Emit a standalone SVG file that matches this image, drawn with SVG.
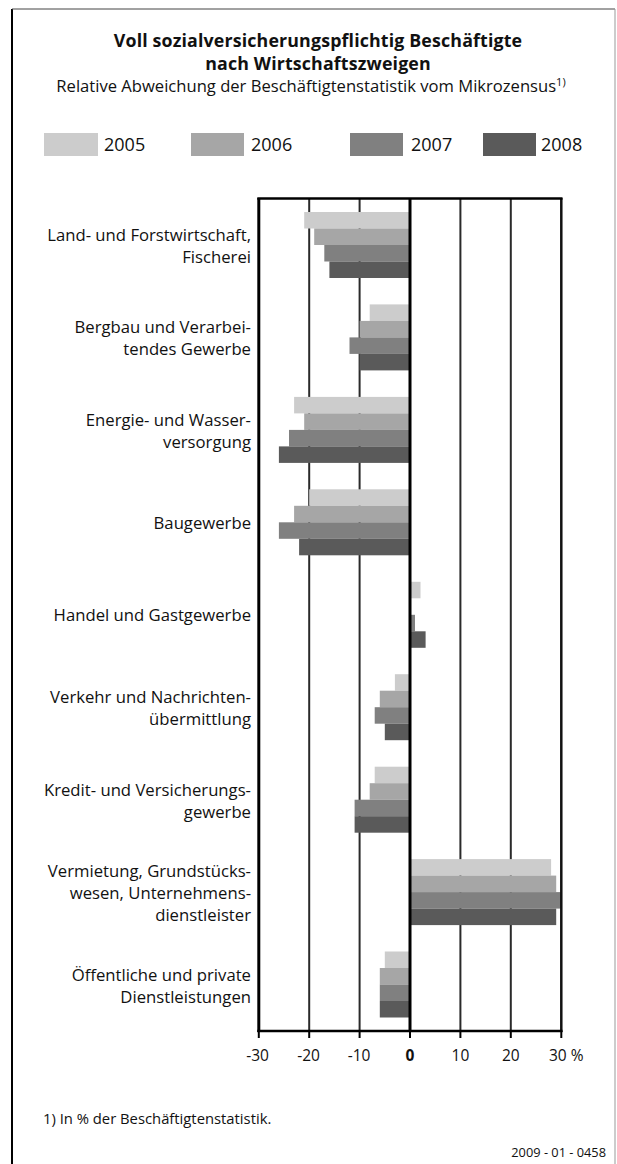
<svg xmlns="http://www.w3.org/2000/svg" width="617" height="1164" viewBox="0 0 617 1164">
<style>
text{font-family:"Open Sans","Noto Sans","Liberation Sans",sans-serif;fill:#111}
.t{font-size:17.8px;font-weight:bold;text-anchor:middle;letter-spacing:0.15px}
.st{font-size:16.6px;text-anchor:middle}
.lg{font-size:18px}
.cat{font-size:16.7px;text-anchor:end}
.ax{font-size:15.5px;text-anchor:middle}
.c5{fill:#cccccc}.c6{fill:#a6a6a6}.c7{fill:#808080}.c8{fill:#5a5a5a}
.grid{stroke:#2a2a2a;stroke-width:2}
</style>
<g id="frame">
<line x1="12" y1="9" x2="12" y2="1164" stroke="#000" stroke-width="2"/>
<line x1="12" y1="9" x2="615" y2="9" stroke="#444" stroke-width="1"/>
<line x1="615" y1="9" x2="615" y2="1164" stroke="#999" stroke-width="1"/>
</g>
<g id="title">
<text class="t" x="318" y="47">Voll sozialversicherungspflichtig Beschäftigte</text>
<text class="t" x="318" y="70">nach Wirtschaftszweigen</text>
<text class="st" x="311" y="92">Relative Abweichung der Beschäftigtenstatistik vom Mikrozensus<tspan font-size="11" dy="-6">1)</tspan></text>
</g>
<g id="legend">
<rect class="c5" x="44" y="133" width="54" height="23"/><text class="lg" x="104" y="151">2005</text>
<rect class="c6" x="191" y="133" width="53" height="23"/><text class="lg" x="251" y="151">2006</text>
<rect class="c7" x="350" y="133" width="53" height="23"/><text class="lg" x="411" y="151">2007</text>
<rect class="c8" x="483" y="133" width="53" height="23"/><text class="lg" x="541" y="151">2008</text>
</g>
<g id="gridlines">
<line class="grid" x1="309.2" y1="199" x2="309.2" y2="1031"/>
<line class="grid" x1="359.6" y1="199" x2="359.6" y2="1031"/>
<line class="grid" x1="460.4" y1="199" x2="460.4" y2="1031"/>
<line class="grid" x1="510.8" y1="199" x2="510.8" y2="1031"/>
</g>
<g id="bars">
<rect class="c5" x="304.2" y="212" width="105.8" height="16.5"/>
<rect class="c6" x="314.2" y="228.5" width="95.8" height="16.5"/>
<rect class="c7" x="324.3" y="245" width="85.7" height="16.5"/>
<rect class="c8" x="329.4" y="261.5" width="80.6" height="16.5"/>
<rect class="c5" x="369.7" y="304.4" width="40.3" height="16.5"/>
<rect class="c6" x="359.6" y="320.9" width="50.4" height="16.5"/>
<rect class="c7" x="349.5" y="337.4" width="60.5" height="16.5"/>
<rect class="c8" x="359.6" y="353.9" width="50.4" height="16.5"/>
<rect class="c5" x="294.1" y="396.9" width="115.9" height="16.5"/>
<rect class="c6" x="304.2" y="413.4" width="105.8" height="16.5"/>
<rect class="c7" x="289" y="429.9" width="121" height="16.5"/>
<rect class="c8" x="278.9" y="446.4" width="131.1" height="16.5"/>
<rect class="c5" x="309.2" y="489.3" width="100.8" height="16.5"/>
<rect class="c6" x="294.1" y="505.8" width="115.9" height="16.5"/>
<rect class="c7" x="278.9" y="522.3" width="131.1" height="16.5"/>
<rect class="c8" x="299.1" y="538.8" width="110.9" height="16.5"/>
<rect class="c5" x="410" y="581.8" width="10.5" height="16.5"/>
<rect class="c7" x="410" y="614.8" width="5" height="16.5"/>
<rect class="c8" x="410" y="631.3" width="15.6" height="16.5"/>
<rect class="c5" x="394.9" y="674.2" width="15.1" height="16.5"/>
<rect class="c6" x="379.8" y="690.7" width="30.2" height="16.5"/>
<rect class="c7" x="374.7" y="707.2" width="35.3" height="16.5"/>
<rect class="c8" x="384.8" y="723.7" width="25.2" height="16.5"/>
<rect class="c5" x="374.7" y="766.7" width="35.3" height="16.5"/>
<rect class="c6" x="369.7" y="783.2" width="40.3" height="16.5"/>
<rect class="c7" x="354.6" y="799.7" width="55.4" height="16.5"/>
<rect class="c8" x="354.6" y="816.2" width="55.4" height="16.5"/>
<rect class="c5" x="410" y="859.1" width="141.1" height="16.5"/>
<rect class="c6" x="410" y="875.6" width="146.2" height="16.5"/>
<rect class="c7" x="410" y="892.1" width="151.2" height="16.5"/>
<rect class="c8" x="410" y="908.6" width="146.2" height="16.5"/>
<rect class="c5" x="384.8" y="951.5" width="25.2" height="16.5"/>
<rect class="c6" x="379.8" y="968" width="30.2" height="16.5"/>
<rect class="c7" x="379.8" y="984.5" width="30.2" height="16.5"/>
<rect class="c8" x="379.8" y="1001" width="30.2" height="16.5"/>
</g>
<g id="axes">
<line x1="258.8" y1="198" x2="258.8" y2="1032" stroke="#000" stroke-width="3"/>
<line x1="561.3" y1="198" x2="561.3" y2="1032" stroke="#111" stroke-width="2.5"/>
<line x1="257.3" y1="198.5" x2="562.5" y2="198.5" stroke="#000" stroke-width="2.5"/>
<line x1="257.3" y1="1031" x2="562.5" y2="1031" stroke="#000" stroke-width="2.5"/>
<line x1="410" y1="198" x2="410" y2="1032" stroke="#000" stroke-width="3"/>
<g stroke="#000" stroke-width="2">
<line x1="258.8" y1="1031" x2="258.8" y2="1038"/>
<line x1="309.2" y1="1031" x2="309.2" y2="1038"/>
<line x1="359.6" y1="1031" x2="359.6" y2="1038"/>
<line x1="410" y1="1031" x2="410" y2="1038"/>
<line x1="460.4" y1="1031" x2="460.4" y2="1038"/>
<line x1="510.8" y1="1031" x2="510.8" y2="1038"/>
<line x1="561.3" y1="1031" x2="561.3" y2="1038"/>
</g>
<text class="ax" x="257.5" y="1061">-30</text>
<text class="ax" x="308.5" y="1061">-20</text>
<text class="ax" x="359" y="1061">-10</text>
<text class="ax" x="410" y="1061" font-weight="bold">0</text>
<text class="ax" x="460.4" y="1061">10</text>
<text class="ax" x="510.8" y="1061">20</text>
<text x="549" y="1061" font-size="15.5">30 %</text>
</g>
<g id="categories">
<text class="cat" x="251" y="241">Land- und Forstwirtschaft,</text>
<text class="cat" x="251" y="263">Fischerei</text>
<text class="cat" x="251" y="333">Bergbau und Verarbei-</text>
<text class="cat" x="251" y="355">tendes Gewerbe</text>
<text class="cat" x="251" y="426">Energie- und Wasser-</text>
<text class="cat" x="251" y="448">versorgung</text>
<text class="cat" x="251" y="529">Baugewerbe</text>
<text class="cat" x="251" y="621">Handel und Gastgewerbe</text>
<text class="cat" x="251" y="703">Verkehr und Nachrichten-</text>
<text class="cat" x="251" y="725">übermittlung</text>
<text class="cat" x="251" y="796">Kredit- und Versicherungs-</text>
<text class="cat" x="251" y="818">gewerbe</text>
<text class="cat" x="251" y="877">Vermietung, Grundstücks-</text>
<text class="cat" x="251" y="899">wesen, Unternehmens-</text>
<text class="cat" x="251" y="921">dienstleister</text>
<text class="cat" x="251" y="981">Öffentliche und private</text>
<text class="cat" x="251" y="1003">Dienstleistungen</text>
</g>
<g id="footer">
<text x="43" y="1124" font-size="14.8">1) In % der Beschäftigtenstatistik.</text>
<text x="606" y="1157" font-size="12.8" text-anchor="end">2009 - 01 - 0458</text>
</g>
</svg>
